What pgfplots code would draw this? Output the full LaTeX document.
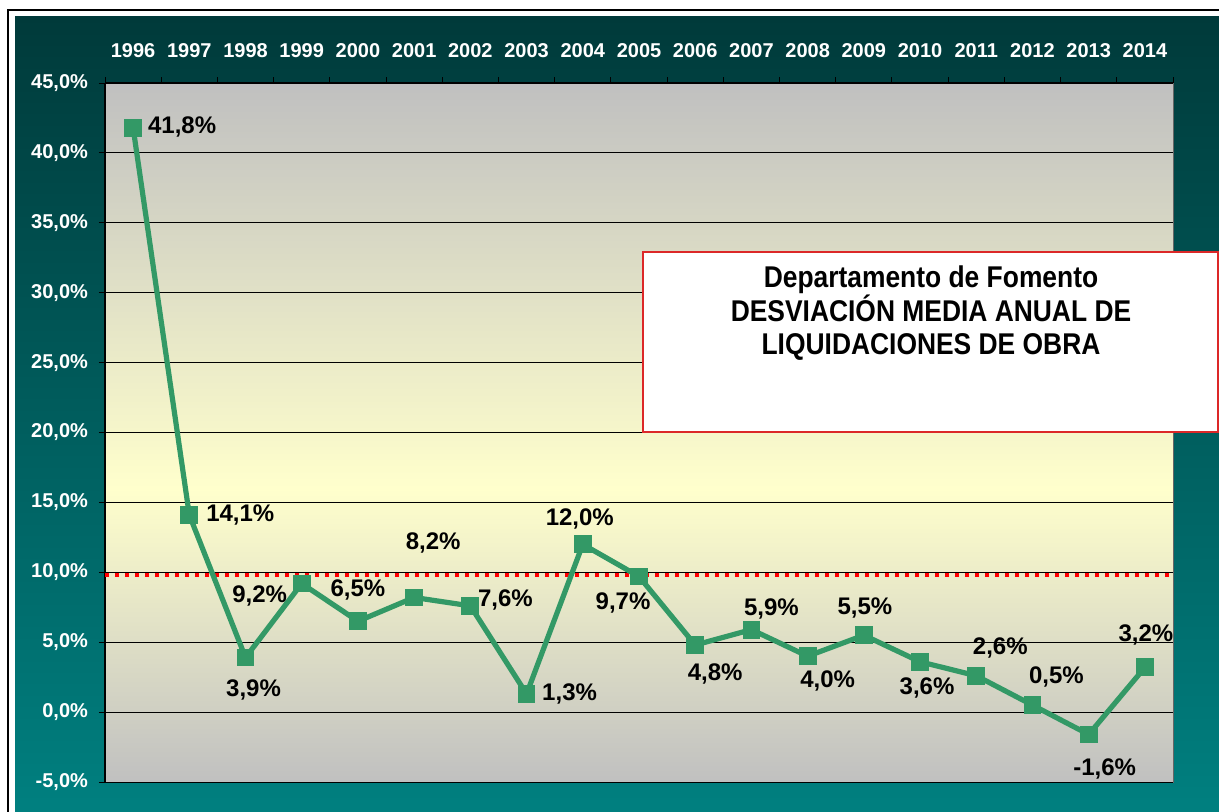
\documentclass[border=0pt]{standalone}
\usepackage{fontspec}
\setmainfont{Liberation Sans}
\newfontfamily\titlefont[FakeStretch=0.88]{Liberation Sans}
\usepackage{pgfplots}
\pgfplotsset{compat=1.18}
\definecolor{bgray}{RGB}{192,192,192}
\definecolor{byellow}{RGB}{255,255,204}
\definecolor{tealtop}{RGB}{0,58,58}
\definecolor{tealbot}{RGB}{0,128,128}
\definecolor{lgreen}{RGB}{51,153,102}
\definecolor{boxred}{RGB}{220,40,40}
\pgfdeclareverticalshading{plotbg}{100bp}{color(0bp)=(bgray); color(25bp)=(bgray); color(46bp)=(byellow); color(75bp)=(bgray); color(100bp)=(bgray)}
\tikzset{lbl/.style={font=\bfseries\fontsize{12}{14}\selectfont, text=black, inner sep=0pt, anchor=center}}
\begin{document}
\begin{tikzpicture}
\useasboundingbox (0,0) rectangle (609.5pt,405.5pt);
\fill[white] (0,0) rectangle (609.5pt,405.5pt);
\shade[top color=tealtop, bottom color=tealbot] (7.5pt,-2pt) rectangle (612pt,397pt);
\draw[black, line width=1.3pt] (4pt,-5pt) -- (4pt,400.5pt) -- (615pt,400.5pt);
\begin{axis}[
  at={(52.5pt,14.5pt)}, anchor=south west,
  width=534pt, height=349.5pt, scale only axis,
  xmin=-0.5, xmax=18.5, ymin=-5, ymax=45,
  axis x line*=top, axis y line*=left,
  axis line style={black, line width=0.6pt},
  xtick={0,...,18},
  xticklabels={1996,1997,1998,1999,2000,2001,2002,2003,2004,2005,2006,2007,2008,2009,2010,2011,2012,2013,2014},
  minor xtick={-0.5,0.5,...,18.5},
  ytick={-5,0,5,10,15,20,25,30,35,40,45},
  yticklabels={{-5,0\%},{0,0\%},{5,0\%},{10,0\%},{15,0\%},{20,0\%},{25,0\%},{30,0\%},{35,0\%},{40,0\%},{45,0\%}},
  ymajorgrids, grid style={black, line width=0.5pt},
  tick align=outside, major tick length=3pt, minor tick length=3pt,
  major x tick style={draw=none},
  tick style={black, line width=0.5pt},
  ticklabel style={text=white, font=\bfseries\fontsize{10}{11}\selectfont},
  xticklabel style={yshift=6pt},
  yticklabel style={xshift=-2pt},
  axis background/.style={shade, shading=plotbg, draw=gray!80!black},
  clip=false,
]
\addplot[red, line width=2pt, dash pattern=on 2pt off 3pt] coordinates {(-0.5,9.78) (18.5,9.78)};
\addplot[color=lgreen, line width=2.6pt, mark=square*, mark size=4.2pt, mark options={solid, fill=lgreen, draw=lgreen, line width=0pt}]
 coordinates {(0,41.8) (1,14.1) (2,3.9) (3,9.2) (4,6.5) (5,8.2) (6,7.6) (7,1.3) (8,12.0) (9,9.7) (10,4.8) (11,5.9) (12,4.0) (13,5.5) (14,3.6) (15,2.6) (16,0.5) (17,-1.6) (18,3.2)};
\node[lbl, xshift=24.5pt, yshift=0.5pt] at (axis cs:0,41.8) {41,8\%};
\node[lbl, xshift=25.5pt, yshift=0pt] at (axis cs:1,14.1) {14,1\%};
\node[lbl, xshift=4pt, yshift=-16pt] at (axis cs:2,3.9) {3,9\%};
\node[lbl, xshift=-21pt, yshift=-6pt] at (axis cs:3,9.2) {9,2\%};
\node[lbl, xshift=0pt, yshift=15.5pt] at (axis cs:4,6.5) {6,5\%};
\node[lbl, xshift=9.5pt, yshift=27pt] at (axis cs:5,8.2) {8,2\%};
\node[lbl, xshift=17.5pt, yshift=3pt] at (axis cs:6,7.6) {7,6\%};
\node[lbl, xshift=21.5pt, yshift=0pt] at (axis cs:7,1.3) {1,3\%};
\node[lbl, xshift=-1.5pt, yshift=12.5pt] at (axis cs:8,12.0) {12,0\%};
\node[lbl, xshift=-8pt, yshift=-13pt] at (axis cs:9,9.7) {9,7\%};
\node[lbl, xshift=10pt, yshift=-14.5pt] at (axis cs:10,4.8) {4,8\%};
\node[lbl, xshift=10pt, yshift=10.5pt] at (axis cs:11,5.9) {5,9\%};
\node[lbl, xshift=10pt, yshift=-12.5pt] at (axis cs:12,4.0) {4,0\%};
\node[lbl, xshift=0.5pt, yshift=13.5pt] at (axis cs:13,5.5) {5,5\%};
\node[lbl, xshift=3.5pt, yshift=-13pt] at (axis cs:14,3.6) {3,6\%};
\node[lbl, xshift=12pt, yshift=14pt] at (axis cs:15,2.6) {2,6\%};
\node[lbl, xshift=12pt, yshift=14pt] at (axis cs:16,0.5) {0,5\%};
\node[lbl, xshift=8pt, yshift=-17pt] at (axis cs:17,-1.6) {-1,6\%};
\node[lbl, xshift=0.5pt, yshift=16pt] at (axis cs:18,3.2) {3,2\%};
\end{axis}
\draw[boxred, line width=0.6pt, fill=white] (321.5pt,189.5pt) rectangle (609pt,279.5pt);
\begin{scope}[every node/.style={font=\titlefont\bfseries\fontsize{15}{17}\selectfont, anchor=base, inner sep=0pt}]
\node at (465.5pt,262pt) {Departamento de Fomento};
\node at (465.5pt,245pt) {DESVIACIÓN MEDIA ANUAL DE};
\node at (465.5pt,228.5pt) {LIQUIDACIONES DE OBRA};
\end{scope}
\end{tikzpicture}
\end{document}
